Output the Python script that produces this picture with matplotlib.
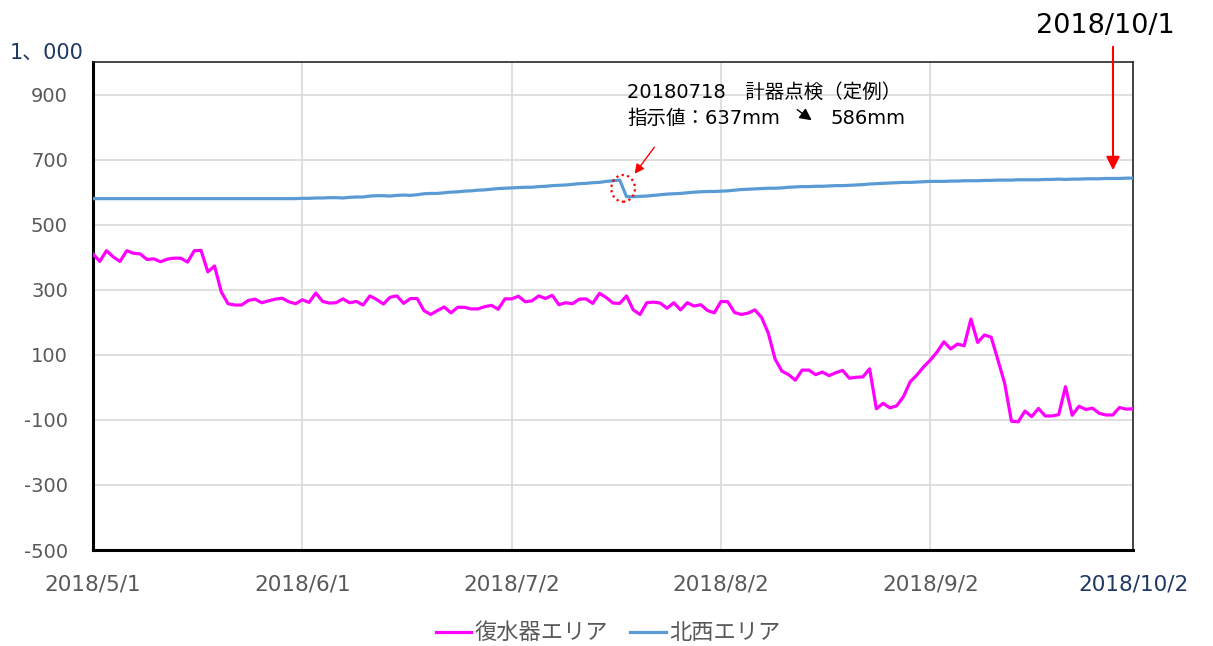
import numpy as np
import pandas as pd
import matplotlib
matplotlib.use("Agg")
import matplotlib.pyplot as plt
import matplotlib.dates as mdates
from matplotlib.patches import Ellipse

plt.rcParams["font.family"] = ["DejaVu Sans", "Noto Sans CJK JP"]

# daily readings 2018/5/1 .. 2018/10/2 (mm)
start_date = "2018-05-01"
fukusuiki = [
    410, 387, 420, 401, 387, 420, 412, 410, 393, 395,
    386, 394, 397, 397, 385, 420, 421, 355, 373, 293,
    257, 253, 253, 267, 271, 260, 266, 271, 274, 263,
    257, 269, 261, 290, 264, 259, 260, 272, 260, 264,
    253, 281, 270, 256, 277, 281, 258, 273, 273, 236,
    224, 236, 247, 229, 246, 246, 241, 241, 248, 252,
    240, 272, 272, 280, 263, 266, 281, 273, 283, 254,
    260, 257, 271, 272, 258, 289, 276, 259, 258, 281,
    238, 224, 260, 262, 259, 243, 260, 238, 260, 250,
    254, 236, 229, 264, 263, 230, 224, 228, 238, 215,
    166, 87, 50, 39, 22, 53, 53, 39, 47, 36,
    45, 52, 28, 31, 32, 57, -66, -49, -63, -57,
    -29, 17, 38, 63, 84, 109, 140, 118, 133, 128,
    210, 138, 161, 154, 84, 12, -104, -106, -73, -90,
    -65, -88, -88, -84, 2, -86, -58, -68, -64, -80,
    -85, -85, -62, -67, -66,
]
hokusei = (
    [580] * 31
    + [581, 581, 582, 582, 583, 583, 582, 584, 585, 585,
       588, 589, 589, 588, 590, 591, 590, 592, 595, 596,
       596, 598, 600, 601, 603, 604, 606, 607, 609, 611, 612]
    + [613, 614, 615, 615, 617, 618, 620, 621, 622, 624,
       626, 627, 629, 630, 633, 635, 637]
    + [586, 586, 587, 588, 590, 592, 594, 595, 596, 598,
       600, 601, 602, 602, 603]
    + [604, 606, 608, 609, 610, 611, 612, 612, 613, 615,
       616, 617, 617, 618, 618, 619, 620, 620, 621, 622,
       623, 625, 626, 627, 628, 629, 630, 630, 631, 632, 633]
    + [633, 633, 634, 634, 635, 635, 635, 636, 636, 637,
       637, 637, 638, 638, 638, 638, 639, 639, 640, 639,
       640, 640, 641, 641, 641, 642, 642, 642, 643, 643]
)
series_names = ["復水器エリア", "北西エリア"]
x_ticks = ["2018-05-01", "2018-06-01", "2018-07-02", "2018-08-02", "2018-09-02", "2018-10-02"]
x_labels = ["2018/5/1", "2018/6/1", "2018/7/2", "2018/8/2", "2018/9/2", "2018/10/2"]
y_ticks = [-500, -300, -100, 100, 300, 500, 700, 900]
check_idx = 78  # 2018/7/18 instrument check

dates = pd.date_range(start_date, periods=len(fukusuiki), freq="D")

GRAY = "#595959"
NAVY = "#1F3864"

fig = plt.figure(figsize=(12.13, 6.46), dpi=100)
ax = fig.add_axes([93 / 1213, 1 - 550 / 646, 1040 / 1213, 488 / 646])

ax.plot(dates, fukusuiki, color="#FF00FF", lw=2.3, label=series_names[0], zorder=3)
ax.plot(dates, hokusei, color="#5B9BD5", lw=2.3, label=series_names[1], zorder=3)

ax.set_xlim(pd.Timestamp(x_ticks[0]), pd.Timestamp(x_ticks[-1]))
ax.set_ylim(-500, 1000)
ax.set_xticks([pd.Timestamp(t) for t in x_ticks])
ax.set_xticklabels(x_labels)
ax.set_yticks(y_ticks)
ax.set_yticklabels([str(v) for v in y_ticks])
ax.tick_params(axis="x", length=0, pad=18, labelsize=15.5, labelcolor=GRAY)
ax.tick_params(axis="y", length=0, pad=18, labelsize=14, labelcolor=GRAY)
ax.get_xticklabels()[-1].set_color(NAVY)
ax.grid(True, color="#D9D9D9", lw=1.2, zorder=0)
ax.set_axisbelow(True)

for side in ("left", "bottom"):
    ax.spines[side].set_color("black")
    ax.spines[side].set_linewidth(2.2)
for side in ("top", "right"):
    ax.spines[side].set_color("#262626")
    ax.spines[side].set_linewidth(1.2)

# top y label written separately
fig.text(10 / 1213, 1 - 53 / 646, "1、000", color=NAVY, fontsize=15, va="center", ha="left")

# instrument check annotation
cx = mdates.date2num(dates[check_idx]) + 0.5
cy = (hokusei[check_idx] + hokusei[check_idx + 1]) / 2
ax.add_patch(Ellipse((cx, cy), width=3.5, height=82, fill=False, ec="red",
                     lw=1.6, ls=(0, (1, 1.5)), zorder=4))
ax.annotate("", xy=(633, 646 - 176), xytext=(656, 646 - 145), xycoords="figure pixels",
            arrowprops=dict(arrowstyle="-|>", color="red", lw=1, mutation_scale=14))
fig.text(627 / 1213, 1 - 92 / 646, "20180718　計器点検（定例）", fontsize=14,
         va="center", ha="left", color="black")
fig.text(627 / 1213, 1 - 118 / 646, f"指示値：{hokusei[check_idx]}mm", fontsize=14,
         va="center", ha="left", color="black")
fig.text(830 / 1213, 1 - 118 / 646, f"{hokusei[check_idx + 1]}mm", fontsize=14,
         va="center", ha="left", color="black")
ax.annotate("", xy=(814, 646 - 122), xytext=(795, 646 - 108), xycoords="figure pixels",
            arrowprops=dict(arrowstyle="-|>", color="black", lw=1, mutation_scale=18))

# 10/1 marker
fig.text(1105 / 1213, 1 - 26 / 646, "2018/10/1", fontsize=19.5, va="center", ha="center",
         color="black")
ax.annotate("", xy=(1113, 646 - 173), xytext=(1113, 646 - 44), xycoords="figure pixels",
            arrowprops=dict(arrowstyle="-|>", color="red", lw=1.5, mutation_scale=20))

fig.legend(loc="center", bbox_to_anchor=(608 / 1213, 1 - 633 / 646), ncol=2, frameon=False,
           fontsize=16, labelcolor=GRAY, handlelength=1.6, handletextpad=0.15,
           columnspacing=1.0)

fig.savefig("out.png", dpi=100)
